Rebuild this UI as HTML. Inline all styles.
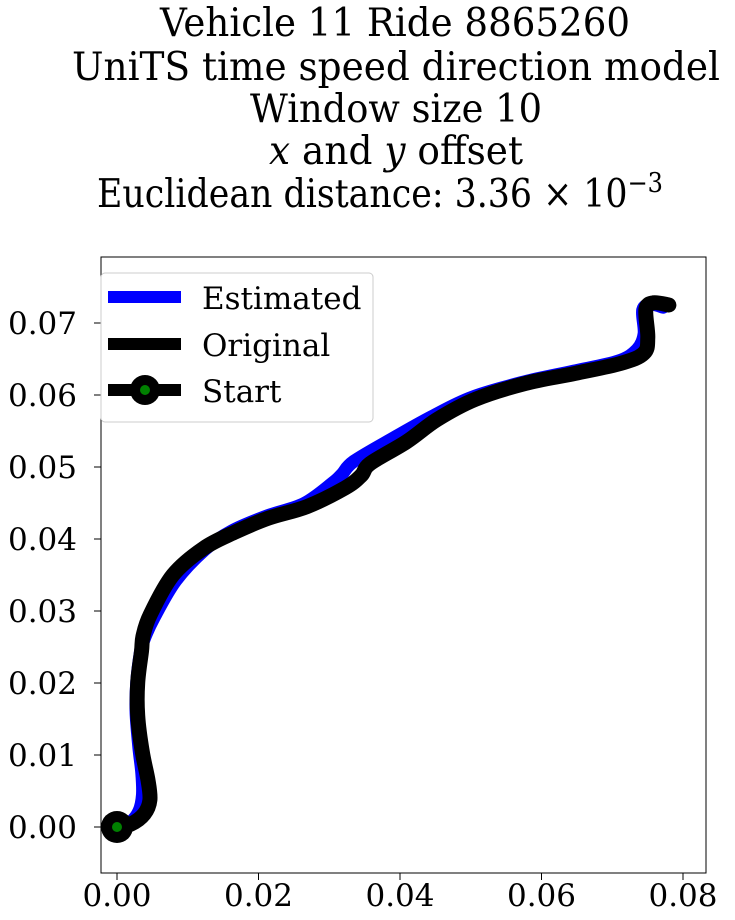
<!DOCTYPE html>
<html><head><meta charset="utf-8"><style>
body{margin:0;background:#fff}
svg{display:block}
text{font-family:"DejaVu Serif","Liberation Serif",serif;fill:#000}
</style></head><body>
<svg id="chart" width="735" height="920">
<g font-size="39" text-anchor="middle">
<text x="395" y="36" textLength="470" lengthAdjust="spacingAndGlyphs">Vehicle 11 Ride 8865260</text>
<text x="396" y="80" textLength="648" lengthAdjust="spacingAndGlyphs">UniTS time speed direction model</text>
<text x="396" y="122" textLength="292" lengthAdjust="spacingAndGlyphs">Window size 10</text>
<text x="396" y="164" textLength="254" lengthAdjust="spacingAndGlyphs"><tspan font-style="italic">x</tspan> and <tspan font-style="italic">y</tspan> offset</text>
<text x="380" y="207" textLength="566" lengthAdjust="spacingAndGlyphs">Euclidean distance: 3.36 × 10<tspan font-size="27" dy="-15">−3</tspan></text>
</g>
<rect x="101" y="257" width="605" height="616" fill="none" stroke="#000" stroke-width="1"/>
<g id="xticks"></g>
<g id="yticks"></g>
<g id="series"></g>
<g>
<rect x="101" y="273" width="272" height="149" rx="4" fill="#fff" fill-opacity="0.8" stroke="#ccc"/>
<line x1="108" y1="297" x2="181" y2="297" stroke="#00f" stroke-width="12"/>
<text x="202" y="309" font-size="31">Estimated</text>
<line x1="108" y1="344" x2="181" y2="344" stroke="#000" stroke-width="12"/>
<text x="202" y="356" font-size="31">Original</text>
<line x1="108" y1="390" x2="181" y2="390" stroke="#000" stroke-width="12"/>
<circle cx="145" cy="390" r="15" fill="#000"/>
<circle cx="145" cy="390" r="5" fill="#008000"/>
<text x="202" y="402" font-size="31">Start</text>
</g>
</svg>
<script>
const origX=[0,0.00195,0.00384,0.00465,0.00438,0.00357,0.00292,0.00292,0.00346,0.00368,0.0047,0.0079,0.01223,0.01656,0.02143,0.02685,0.03226,0.0345,0.0358,0.04092,0.04525,0.05066,0.0577,0.06474,0.07123,0.07448,0.07502,0.07475,0.07583,0.078];
const origY=[0,0.0004,0.0018,0.00375,0.0065,0.01045,0.0155,0.02,0.0244,0.0265,0.0295,0.035,0.0387,0.0409,0.0429,0.0445,0.0471,0.0488,0.0505,0.0535,0.0566,0.0594,0.0616,0.063,0.0644,0.0658,0.068,0.0719,0.0728,0.0725];
const estX=[0,0.0018,0.0031,0.0036,0.0035,0.0031,0.0027,0.0028,0.0033,0.0038,0.0052,0.0083,0.0124,0.0162,0.0212,0.0264,0.0305,0.0318,0.0335,0.0392,0.0445,0.0502,0.0575,0.0645,0.0708,0.0735,0.0745,0.0743,0.0755,0.0772];
const estY=[0,0.0006,0.0022,0.0045,0.0075,0.011,0.0158,0.0202,0.0242,0.026,0.029,0.0342,0.0385,0.0411,0.0432,0.0449,0.0478,0.049,0.0508,0.0541,0.057,0.0597,0.0618,0.0633,0.0647,0.0663,0.0685,0.0718,0.0726,0.0722];
const xTicks=[0,0.02,0.04,0.06,0.08];
const xTickLabels=["0.00","0.02","0.04","0.06","0.08"];
const yTicks=[0,0.01,0.02,0.03,0.04,0.05,0.06,0.07];
const yTickLabels=["0.00","0.01","0.02","0.03","0.04","0.05","0.06","0.07"];
const NS="http://www.w3.org/2000/svg";
const sx=v=>117+v*7075;
const sy=v=>827-v*7200;
function mk(t,a,p){const e=document.createElementNS(NS,t);for(const k in a)e.setAttribute(k,a[k]);p.appendChild(e);return e;}
const xg=document.getElementById('xticks'),yg=document.getElementById('yticks'),sg=document.getElementById('series');
xTicks.forEach((v,i)=>{
 const l=mk('line',{x1:sx(v),x2:sx(v),y1:873,y2:880,stroke:'#000'},xg);
 
 
 const t=mk('text',{x:sx(v),y:906,'font-size':'31','text-anchor':'middle'},xg);
 t.textContent=xTickLabels[i];
 
 
});
yTicks.forEach((v,i)=>{
 const l=mk('line',{x1:94,x2:101,y1:sy(v),y2:sy(v),stroke:'#000'},yg);
 
 
 const t=mk('text',{x:77,y:sy(v)+11,'font-size':'31','text-anchor':'end'},yg);
 t.textContent=yTickLabels[i];
 
 
});
function path(xs,ys){
 const P=xs.map((x,i)=>[sx(x),sy(ys[i])]);
 let d='M'+P[0][0].toFixed(1)+','+P[0][1].toFixed(1);
 for(let i=0;i<P.length-1;i++){
  const p0=P[Math.max(0,i-1)],p1=P[i],p2=P[i+1],p3=P[Math.min(P.length-1,i+2)];
  const c1=[p1[0]+(p2[0]-p0[0])/6,p1[1]+(p2[1]-p0[1])/6];
  const c2=[p2[0]-(p3[0]-p1[0])/6,p2[1]-(p3[1]-p1[1])/6];
  d+=' C'+c1[0].toFixed(1)+','+c1[1].toFixed(1)+' '+c2[0].toFixed(1)+','+c2[1].toFixed(1)+' '+p2[0].toFixed(1)+','+p2[1].toFixed(1);
 }
 return d;
}
const pe=mk('path',{d:path(estX,estY),fill:'none',stroke:'#00f','stroke-width':'13','stroke-linejoin':'round','stroke-linecap':'round'},sg);


const po=mk('path',{d:path(origX,origY),fill:'none',stroke:'#000','stroke-width':'15','stroke-linejoin':'round','stroke-linecap':'round'},sg);


const c1=mk('circle',{cx:sx(origX[0]),cy:sy(origY[0]),r:16,fill:'#000'},sg);


const c2=mk('circle',{cx:sx(origX[0]),cy:sy(origY[0]),r:5,fill:'#008000'},sg);


</script>
</body></html>
